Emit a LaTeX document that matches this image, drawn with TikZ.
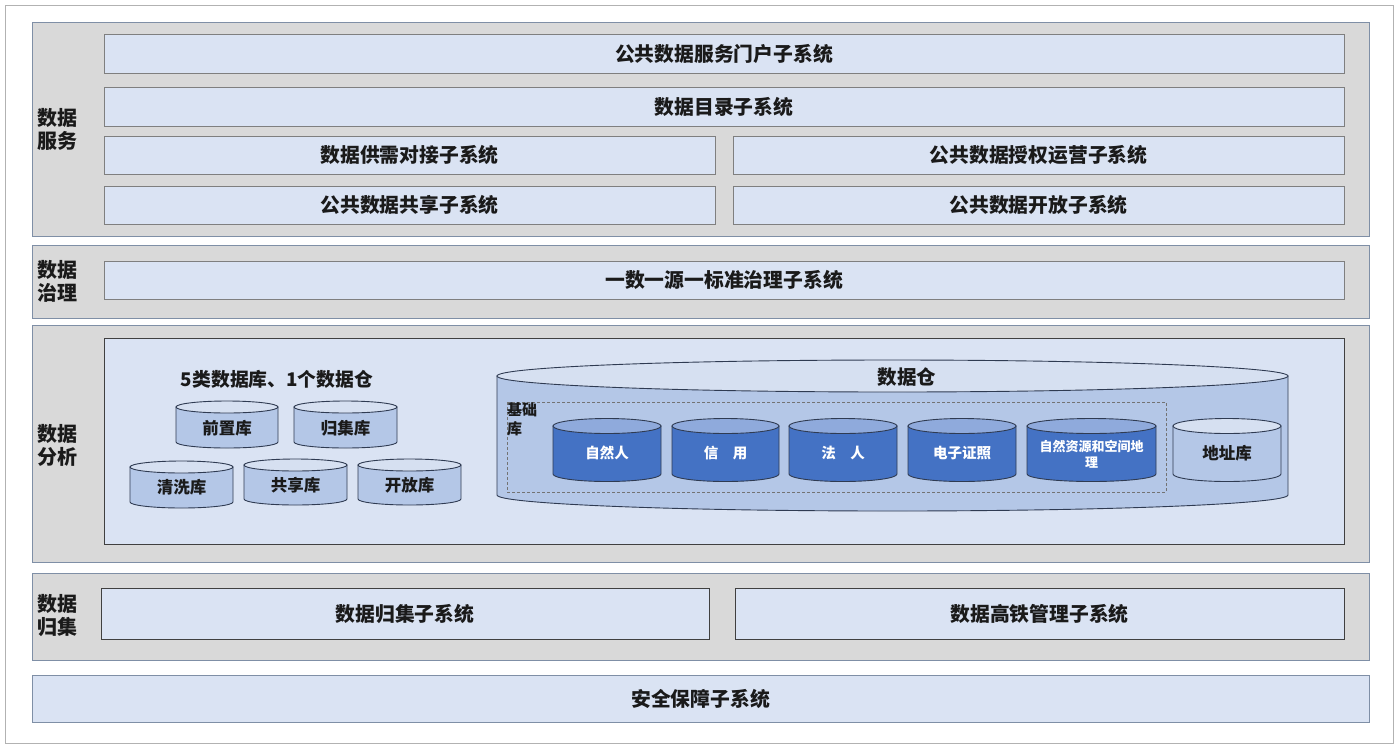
\documentclass[tikz,border=0pt]{standalone}
\usepackage{fontspec}
\setmainfont{Noto Sans CJK SC}
\definecolor{laygray}{HTML}{D9D9D9}
\definecolor{layedge}{HTML}{7F8FA6}
\definecolor{boxfill}{HTML}{DAE3F3}
\definecolor{boxedge}{HTML}{7F7F7F}
\definecolor{darkedge}{HTML}{404040}
\definecolor{cylbody}{HTML}{B4C7E7}
\definecolor{cyltop}{HTML}{D6E0F1}
\definecolor{dkbody}{HTML}{4472C4}
\definecolor{dktop}{HTML}{8FAADC}
\definecolor{cyledge}{HTML}{2F3B52}
\definecolor{txt}{HTML}{1A1A1A}
\newcommand\boxat[6]{\node[#1, minimum width={(#4-#2)*1pt}, minimum height={(#5-#3)*1pt}] (#6) at ({(#2+#4)/2},{(#3+#5)/2})}
% x1 x2 ytopcenter ybotcenter ry body top
\newcommand\cylshape[7]{%
  \path[fill=#6, draw=cyledge, line width=0.9pt] (#1,#3) -- (#1,#4)
    arc[start angle=180, end angle=360, x radius={(#2-#1)/2*1pt}, y radius={#5*1pt}] -- (#2,#3) -- cycle;
  \path[fill=#7, draw=cyledge, line width=0.9pt] ({(#1+#2)/2},#3) ellipse[x radius={(#2-#1)/2*1pt}, y radius={#5*1pt}];}
\begin{document}
\begin{tikzpicture}[x=1pt,y=-1pt,
  layer/.style={fill=laygray, draw=layedge, line width=1pt, inner sep=0pt, outer sep=0pt},
  sbox/.style={fill=boxfill, draw=boxedge, line width=1pt, inner sep=0pt, outer sep=0pt, text=txt, font=\fontsize{19.8}{22}\selectfont\bfseries},
  dbox/.style={sbox, draw=darkedge},
  lab/.style={text=txt, align=center, font=\fontsize{20}{23}\selectfont\bfseries, inner sep=0pt},
  ctext/.style={text=txt, font=\fontsize{16.5}{19}\selectfont\bfseries, inner sep=0pt},
  wtext/.style={text=white, align=center, font=\fontsize{14.5}{16}\selectfont\bfseries, inner sep=0pt}]
\useasboundingbox (0,0) rectangle (1400,748);
\draw[draw=black!30, fill=white, line width=1pt] (5,5) rectangle (1393,743);
% layer 1
\boxat{layer}{32}{22}{1369}{236}{L1} {};
\node[lab] (l1) at (57,129) {数据\\服务};
\boxat{sbox}{104}{34}{1344}{73}{portal} {公共数据服务门户子系统};
\boxat{sbox}{104}{87}{1344}{126}{catalog} {数据目录子系统};
\boxat{sbox}{104}{136}{715}{174}{supply} {数据供需对接子系统};
\boxat{sbox}{733}{136}{1344}{174}{auth} {公共数据授权运营子系统};
\boxat{sbox}{104}{186}{715}{224}{share} {公共数据共享子系统};
\boxat{sbox}{733}{186}{1344}{224}{open} {公共数据开放子系统};
% layer 2
\boxat{layer}{32}{245}{1369}{318}{L2} {};
\node[lab] (l2) at (57,281) {数据\\治理};
\boxat{sbox}{104}{261}{1344}{299}{govern} {一数一源一标准治理子系统};
% layer 3
\boxat{layer}{32}{325}{1369}{562}{L3} {};
\node[lab] (l3) at (57,445) {数据\\分析};
\boxat{sbox}{104}{338}{1344}{544}{anabox} {};
\path[draw=darkedge, line width=1pt] (104,338) rectangle (1344,544);
\node[text=txt, font=\fontsize{18.8}{21}\selectfont\bfseries, inner sep=0pt] (title5) at (277,379) {5类数据库、1个数据仓};
\cylshape{176}{278}{407}{442}{6}{cylbody}{cyltop}
\node[ctext] (qz) at (227,428) {前置库};
\cylshape{294}{397}{407}{442}{6}{cylbody}{cyltop}
\node[ctext] (gj) at (345.5,428) {归集库};
\cylshape{130}{233}{467}{502}{6}{cylbody}{cyltop}
\node[ctext] (qx) at (181.5,487) {清洗库};
\cylshape{244}{347}{465}{499}{6}{cylbody}{cyltop}
\node[ctext] (gx) at (295.5,485) {共享库};
\cylshape{358}{461}{465}{499}{6}{cylbody}{cyltop}
\node[ctext] (kf) at (409.5,485) {开放库};
% warehouse
\cylshape{497}{1288}{376}{495}{16}{cylbody}{cyltop}
\node[text=txt, font=\fontsize{19.5}{22}\selectfont\bfseries, inner sep=0pt] (wh) at (907,377) {数据仓};
\draw[densely dashed, draw=black!55, line width=0.6pt] (507,402) rectangle (1166,492);
\node[text=txt, align=left, anchor=north west, font=\fontsize{15}{19}\selectfont\bfseries, inner sep=0pt] (jc) at (507,402) {基础\\库};
\cylshape{553}{661}{426}{474}{7.5}{dkbody}{dktop}
\node[wtext] (zrr) at (607,453) {自然人};
\cylshape{672}{779}{426}{474}{7.5}{dkbody}{dktop}
\node[wtext] (xy) at (725.5,453) {信\hspace{1em}用};
\cylshape{789}{897}{426}{474}{7.5}{dkbody}{dktop}
\node[wtext] (fr) at (843,453) {法\hspace{1em}人};
\cylshape{908}{1016}{426}{474}{7.5}{dkbody}{dktop}
\node[wtext] (dz) at (962,453) {电子证照};
\cylshape{1027}{1156}{426}{474}{7.5}{dkbody}{dktop}
\node[wtext, font=\fontsize{13}{16}\selectfont\bfseries] (zy) at (1091.5,454) {自然资源和空间地\\理};
\cylshape{1173}{1281}{426}{474}{7.5}{cylbody}{cyltop}
\node[ctext] (dzk) at (1227,453) {地址库};
% layer 4
\boxat{layer}{32}{573}{1369}{660}{L4} {};
\node[lab] (l4) at (57,616) {数据\\归集};
\boxat{dbox}{101}{588}{709}{639}{collect} {数据归集子系统};
\boxat{dbox}{735}{588}{1344}{639}{rail} {数据高铁管理子系统};
% layer 5
\boxat{sbox}{32}{675}{1369}{722}{safety} {安全保障子系统};
\draw[draw=layedge, line width=1pt] (32,675) rectangle (1369,722);
\end{tikzpicture}
\end{document}
